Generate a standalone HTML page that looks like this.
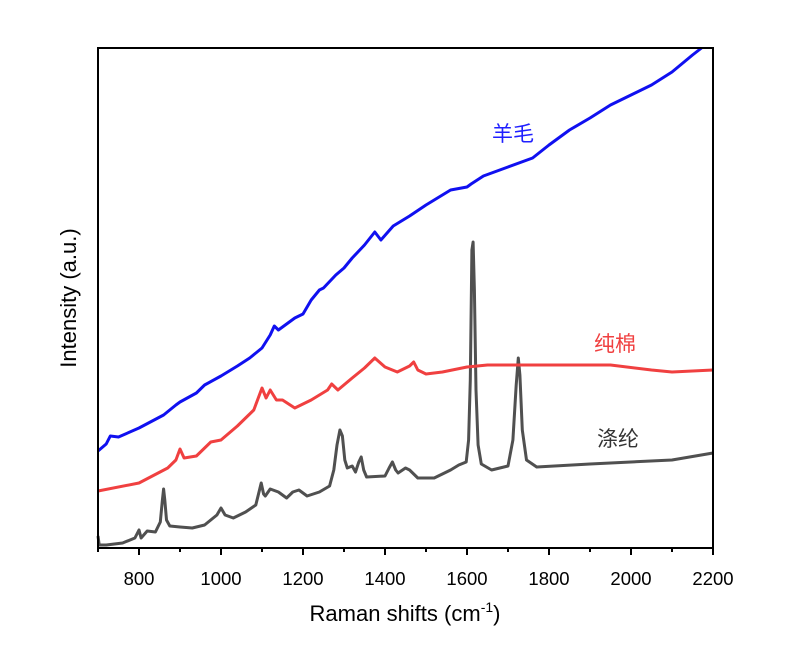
<!DOCTYPE html>
<html><head><meta charset="utf-8"><style>body{margin:0;background:#fff}</style></head>
<body>
<svg id="s" width="803" height="649" xmlns="http://www.w3.org/2000/svg" style="font-family:'Liberation Sans','Noto Sans CJK SC',sans-serif">
<rect width="803" height="649" fill="#fff"/>
<g id="lines" fill="none" stroke-width="3" stroke-linejoin="round"></g>
<rect x="98" y="48" width="615" height="500" fill="none" stroke="#000" stroke-width="2"/>
<g id="ticks" stroke="#000" stroke-width="2"></g>
<g font-size="18.5" text-anchor="middle" fill="#000" id="tl"></g>
<text x="405" y="621" font-size="22" text-anchor="middle">Raman shifts (cm<tspan dy="-9" font-size="14">-1</tspan><tspan dy="9">)</tspan></text>
<text transform="translate(76,298) rotate(-90)" font-size="22" text-anchor="middle">Intensity (a.u.)</text>
<text x="513" y="141" font-size="21" fill="#2020ff" text-anchor="middle">羊毛</text>
<text x="615" y="351" font-size="21" fill="#f04040" text-anchor="middle">纯棉</text>
<text x="618" y="446" font-size="21" fill="#333" text-anchor="middle">涤纶</text>
</svg>
<script>
const X=w=>98+(w-700)*0.41;
const gray=[[700,536],[703,545],[720,545],[760,543],[790,538],[800,530],[805,538],[820,531],[840,532],[852,522],[857,500],[860,489],[863,500],[867,520],[875,526],[900,527],[930,528],[960,525],[990,515],[1000,508],[1010,515],[1030,518],[1060,512],[1085,505],[1094,490],[1098,483],[1104,494],[1108,496],[1120,489],[1140,492],[1160,498],[1175,492],[1190,490],[1210,496],[1240,492],[1265,486],[1275,470],[1283,445],[1290,430],[1296,436],[1302,460],[1308,468],[1320,466],[1328,472],[1336,462],[1342,457],[1348,470],[1355,477],[1400,476],[1410,468],[1418,462],[1426,470],[1432,473],[1450,468],[1460,470],[1480,478],[1520,478],[1560,470],[1580,465],[1598,462],[1604,440],[1608,380],[1612,250],[1615,242],[1618,290],[1622,390],[1627,445],[1635,464],[1660,470],[1700,466],[1712,440],[1720,385],[1725,358],[1729,375],[1735,430],[1745,460],[1770,467],[1900,464],[2000,462],[2100,460],[2200,453]];
const red=[[700,491],[800,483],[870,468],[890,460],[900,449],[910,458],[940,456],[975,442],[1000,440],[1040,426],[1080,410],[1100,388],[1110,398],[1120,390],[1135,400],[1150,400],[1180,408],[1220,400],[1260,390],[1270,384],[1285,390],[1320,378],[1350,368],[1375,358],[1400,367],[1430,372],[1460,366],[1470,362],[1480,370],[1500,374],[1540,372],[1600,367],[1650,365],[1800,365],[1950,365],[2050,370],[2100,372],[2200,370]];
const blue=[[700,451],[720,444],[730,436],[750,437],[800,428],[860,415],[890,405],[900,402],[940,393],[960,385],[1000,376],[1040,366],[1070,358],[1100,348],[1120,335],[1130,326],[1140,330],[1180,318],[1200,314],[1220,300],[1240,290],[1250,288],[1280,275],[1300,268],[1320,258],[1350,245],[1375,232],[1390,240],[1420,226],[1460,216],[1500,205],[1560,190],[1600,187],[1610,184],[1640,176],[1700,167],[1760,158],[1800,145],[1850,130],[1900,118],[1950,105],[2000,95],[2050,85],[2100,72],[2150,55],[2172,48]];
const L=document.getElementById('lines');
[[gray,'#505050'],[red,'#f04040'],[blue,'#1010f0']].forEach(([d,c])=>{
 const p=document.createElementNS('http://www.w3.org/2000/svg','polyline');
 p.setAttribute('points',d.map(([w,y])=>X(w).toFixed(1)+','+y).join(' '));
 p.setAttribute('stroke',c);L.appendChild(p);});
const T=document.getElementById('ticks'),TL=document.getElementById('tl');
for(let w=700;w<=2200;w+=100){const x=X(w);const l=document.createElementNS('http://www.w3.org/2000/svg','line');
 l.setAttribute('x1',x);l.setAttribute('x2',x);l.setAttribute('y1',548);l.setAttribute('y2',w%200==0?555:552);T.appendChild(l);
 if(w%200==0){const t=document.createElementNS('http://www.w3.org/2000/svg','text');t.setAttribute('x',x);t.setAttribute('y',585);t.textContent=w;TL.appendChild(t);}}
</script>
</body></html>
